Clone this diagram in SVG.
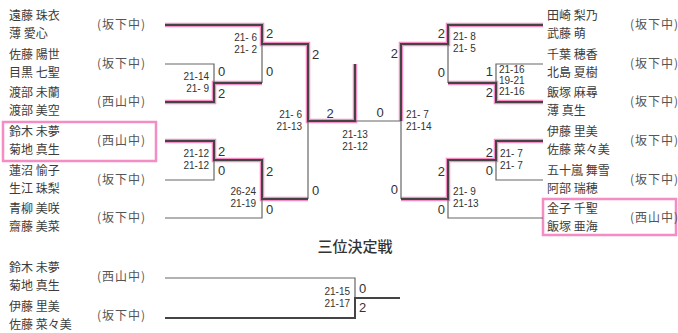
<svg xmlns="http://www.w3.org/2000/svg" width="678" height="333" viewBox="0 0 678 333">
<style>
.nm{font-family:"Noto Sans CJK JP","Noto Sans CJK SC",sans-serif;font-size:12px;fill:#3c3c3c}
.tm{font-family:"Noto Sans CJK JP","Noto Sans CJK SC",sans-serif;font-size:12px;fill:#555;letter-spacing:1px}
.gs{font-family:"Liberation Sans","DejaVu Sans",sans-serif;font-size:10px;fill:#333}
.sc{font-family:"Liberation Sans","DejaVu Sans",sans-serif;font-size:13px;fill:#333}
.ttl{font-family:"Noto Sans CJK JP","Noto Sans CJK SC",sans-serif;font-size:15px;fill:#333;font-weight:500}
.ln{stroke:#666;stroke-width:1.2;fill:none}
.wn{stroke:#444;stroke-width:2;fill:none}
.pk{stroke:#f070b5;stroke-width:4.5;stroke-opacity:0.8;fill:none;stroke-linejoin:miter}
.bx{stroke:#f070b5;stroke-width:2.5;stroke-opacity:0.8;fill:none}
</style>
<rect width="678" height="333" fill="#ffffff"/>
<g id="highlight">
<path class="pk" d="M165,25 H262 V44 H308 V121 H355 V64"/>
<path class="pk" d="M165,102 H214 V83 H262"/>
<path class="pk" d="M165,141 H214 V160 H262 V199 H308"/>
<path class="pk" d="M543,25 H448 V44 H401 V121"/>
<path class="pk" d="M543,102 H496 V83 H448"/>
<path class="pk" d="M543,141 H496 V160 H448 V199 H401"/>
<rect class="bx" x="3" y="122" width="153" height="39"/>
<rect class="bx" x="543" y="199" width="133" height="36"/>
</g>
<g id="connectors">
<path class="ln" d="M165,64 H214 V102 H165 M214,83 H262"/>
<path class="ln" d="M165,25 H262 V83 M262,44 H308"/>
<path class="ln" d="M165,141 H214 V180 H165 M214,160 H262"/>
<path class="ln" d="M262,160 V218 H165 M262,199 H308"/>
<path class="ln" d="M308,44 V199 M308,121 H355"/>
<path class="ln" d="M355,121 H401 M355,121 V64"/>
<path class="ln" d="M401,44 V199"/>
<path class="ln" d="M543,25 H448 V83 M448,44 H401"/>
<path class="ln" d="M543,64 H496 V102 H543 M496,83 H448"/>
<path class="ln" d="M543,141 H496 V180 H543 M496,160 H448"/>
<path class="ln" d="M448,160 V218 H543 M448,199 H401"/>
<path class="wn" d="M165,25 H262 V44 H308 V121 H355 V64"/>
<path class="wn" d="M165,102 H214 V83 H262"/>
<path class="wn" d="M165,141 H214 V160 H262 V199 H308"/>
<path class="wn" d="M543,25 H448 V44 H401 V121"/>
<path class="wn" d="M543,102 H496 V83 H448"/>
<path class="wn" d="M543,141 H496 V160 H448 V199 H401"/>
<path class="ln" d="M165,278 H355 V318 M355,298 H400"/>
<path class="wn" d="M165,318 H355 V298 H400"/>
</g>
<g id="left-teams">
<g id="L1"><text class="nm" x="9" y="20">遠藤 珠衣</text><text class="nm" x="9" y="38">薄 愛心</text><text class="tm" x="97" y="29">(坂下中)</text></g>
<g id="L2"><text class="nm" x="9" y="59">佐藤 陽世</text><text class="nm" x="9" y="77">目黒 七聖</text><text class="tm" x="97" y="68">(坂下中)</text></g>
<g id="L3"><text class="nm" x="9" y="97">渡部 未蘭</text><text class="nm" x="9" y="115">渡部 美空</text><text class="tm" x="97" y="106">(西山中)</text></g>
<g id="L4"><text class="nm" x="9" y="136">鈴木 未夢</text><text class="nm" x="9" y="154">菊地 真生</text><text class="tm" x="97" y="145">(西山中)</text></g>
<g id="L5"><text class="nm" x="9" y="175">蓮沼 愉子</text><text class="nm" x="9" y="193">生江 珠梨</text><text class="tm" x="97" y="184">(坂下中)</text></g>
<g id="L6"><text class="nm" x="9" y="213">青柳 美咲</text><text class="nm" x="9" y="231">齋藤 美菜</text><text class="tm" x="97" y="222">(坂下中)</text></g>
</g>
<g id="right-teams">
<g id="R1"><text class="nm" x="547" y="20">田崎 梨乃</text><text class="nm" x="547" y="38">武藤 萌</text><text class="tm" x="630" y="29">(坂下中)</text></g>
<g id="R2"><text class="nm" x="547" y="59">千葉 穂香</text><text class="nm" x="547" y="77">北島 夏樹</text><text class="tm" x="630" y="68">(坂下中)</text></g>
<g id="R3"><text class="nm" x="547" y="97">飯塚 麻尋</text><text class="nm" x="547" y="115">薄 真生</text><text class="tm" x="630" y="106">(坂下中)</text></g>
<g id="R4"><text class="nm" x="547" y="136">伊藤 里美</text><text class="nm" x="547" y="154">佐藤 菜々美</text><text class="tm" x="630" y="145">(坂下中)</text></g>
<g id="R5"><text class="nm" x="547" y="175">五十嵐 舞雪</text><text class="nm" x="547" y="193">阿部 瑞穂</text><text class="tm" x="630" y="184">(坂下中)</text></g>
<g id="R6"><text class="nm" x="547" y="213">金子 千聖</text><text class="nm" x="547" y="231">飯塚 亜海</text><text class="tm" x="630" y="222">(西山中)</text></g>
</g>
<g id="third-place">
<text class="ttl" x="355" y="252" text-anchor="middle">三位決定戦</text>
<g id="B1"><text class="nm" x="9" y="272">鈴木 未夢</text><text class="nm" x="9" y="290">菊地 真生</text><text class="tm" x="97" y="281">(西山中)</text></g>
<g id="B2"><text class="nm" x="9" y="311">伊藤 里美</text><text class="nm" x="9" y="329">佐藤 菜々美</text><text class="tm" x="97" y="320">(坂下中)</text></g>
<text class="gs" x="350" y="295" text-anchor="end">21-15</text>
<text class="gs" x="350" y="307" text-anchor="end">21-17</text>
<text class="sc" x="359" y="293">0</text>
<text class="sc" x="359" y="312">2</text>
</g>
<g id="scores">
<text class="gs" x="257" y="41" text-anchor="end">21- 6</text>
<text class="gs" x="257" y="53" text-anchor="end">21- 2</text>
<text class="sc" x="266" y="38">2</text>
<text class="sc" x="266" y="76">0</text>
<text class="gs" x="209" y="80" text-anchor="end">21-14</text>
<text class="gs" x="209" y="92" text-anchor="end">21- 9</text>
<text class="sc" x="218" y="76">0</text>
<text class="sc" x="218" y="98">2</text>
<text class="gs" x="209" y="157" text-anchor="end">21-12</text>
<text class="gs" x="209" y="169" text-anchor="end">21-12</text>
<text class="sc" x="218" y="156">2</text>
<text class="sc" x="218" y="175">0</text>
<text class="gs" x="256" y="195" text-anchor="end">26-24</text>
<text class="gs" x="256" y="207" text-anchor="end">21-19</text>
<text class="sc" x="266" y="176">2</text>
<text class="sc" x="266" y="214">0</text>
<text class="gs" x="302" y="118" text-anchor="end">21- 6</text>
<text class="gs" x="302" y="130" text-anchor="end">21-13</text>
<text class="sc" x="312" y="59">2</text>
<text class="sc" x="312" y="195">0</text>
<text class="sc" x="330" y="118" text-anchor="middle">2</text>
<text class="sc" x="380" y="117" text-anchor="middle">0</text>
<text class="gs" x="355" y="138" text-anchor="middle">21-13</text>
<text class="gs" x="355" y="150" text-anchor="middle">21-12</text>
<text class="gs" x="406" y="118">21- 7</text>
<text class="gs" x="406" y="130">21-14</text>
<text class="sc" x="398" y="58" text-anchor="end">2</text>
<text class="sc" x="398" y="194" text-anchor="end">0</text>
<text class="gs" x="453" y="40">21- 8</text>
<text class="gs" x="453" y="52">21- 5</text>
<text class="sc" x="445" y="38" text-anchor="end">2</text>
<text class="sc" x="445" y="77" text-anchor="end">0</text>
<text class="gs" x="499" y="73">21-16</text>
<text class="gs" x="499" y="84">19-21</text>
<text class="gs" x="499" y="95">21-16</text>
<text class="sc" x="493" y="76" text-anchor="end">1</text>
<text class="sc" x="493" y="97" text-anchor="end">2</text>
<text class="gs" x="500" y="157">21- 7</text>
<text class="gs" x="500" y="169">21- 7</text>
<text class="sc" x="493" y="157" text-anchor="end">2</text>
<text class="sc" x="493" y="175" text-anchor="end">0</text>
<text class="gs" x="453" y="195">21- 9</text>
<text class="gs" x="453" y="207">21-13</text>
<text class="sc" x="445" y="176" text-anchor="end">2</text>
<text class="sc" x="445" y="214" text-anchor="end">0</text>
</g>
</svg>
